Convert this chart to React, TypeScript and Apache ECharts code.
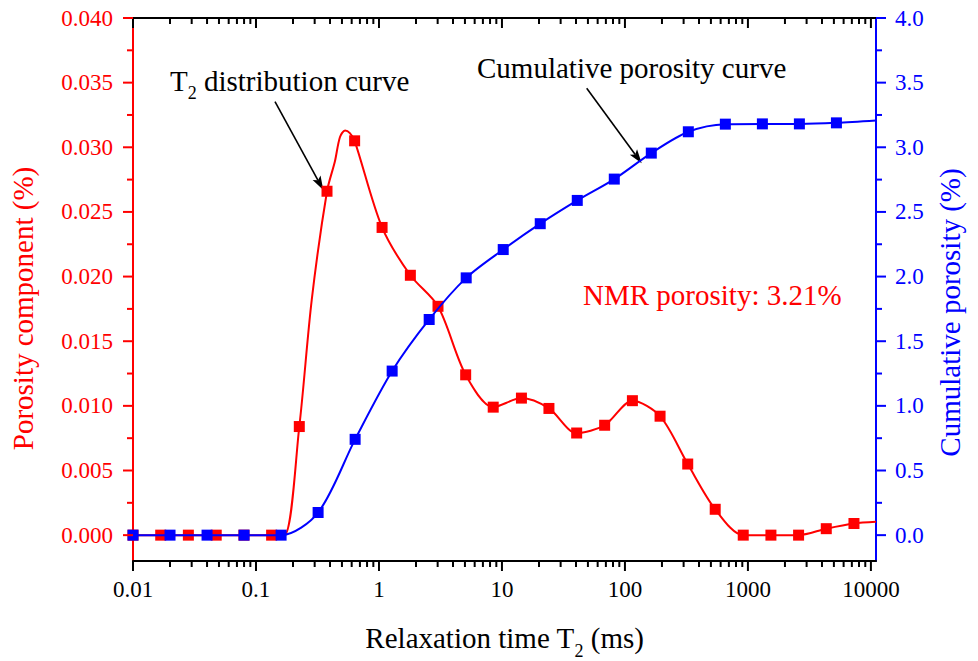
import React, { useEffect, useRef } from 'react';
import * as echarts from 'echarts';

const FONT = 'Liberation Serif';
const RED = '#ff0000';
const BLUE = '#0000ff';

// ---- axis ticks / labels ----
const xTickValues = [0.01, 0.1, 1, 10, 100, 1000, 10000];
const xTickLabels = ['0.01', '0.1', '1', '10', '100', '1000', '10000'];
const xMinorMultipliers = [2, 3, 4, 5, 6, 7, 8, 9];
const leftTickValues = [0, 0.005, 0.01, 0.015, 0.02, 0.025, 0.03, 0.035, 0.04];
const rightTickValues = [0, 0.5, 1, 1.5, 2, 2.5, 3, 3.5, 4];

// ---- T2 distribution (red, left axis) ----
const redMarkerT2 = [0.01, 0.0168, 0.0282, 0.0475, 0.0798, 0.134, 0.225, 0.378, 0.634, 1.06, 1.8, 3.02, 5.07, 8.49, 14.4, 24.1, 40.5, 68.4, 115, 193, 324, 542, 916, 1538, 2582, 4336, 7281];
const redMarkerPorosity = [0, 0, 0, 0, 0, 0, 0.0084, 0.0266, 0.0305, 0.0238, 0.0201, 0.0177, 0.0124, 0.0099, 0.0106, 0.0098, 0.0079, 0.0085, 0.0104, 0.0092, 0.0055, 0.002, 0, 0, 0, 0.0005, 0.0009];
const redCurveT2 = [0.01, 0.0168, 0.0282, 0.0475, 0.0798, 0.134, 0.17, 0.225, 0.284, 0.378, 0.438, 0.482, 0.53, 0.58, 0.634, 1.06, 1.8, 3.02, 5.07, 8.49, 14.4, 24.1, 40.5, 68.4, 115, 193, 324, 542, 916, 1538, 2582, 4336, 7281, 11000];
const redCurvePorosity = [0, 0, 0, 0, 0, 0, 0, 0.0084, 0.0182, 0.0266, 0.0289, 0.0308, 0.0313, 0.0311, 0.0305, 0.0238, 0.0201, 0.0177, 0.0124, 0.0099, 0.0106, 0.0098, 0.0079, 0.0085, 0.0104, 0.0092, 0.0055, 0.002, 0, 0, 0, 0.0005, 0.0009, 0.00103];

// ---- cumulative porosity (blue, right axis) ----
const blueMarkerT2 = [0.01, 0.02, 0.04, 0.08, 0.16, 0.32, 0.64, 1.28, 2.56, 5.12, 10.24, 20.48, 40.96, 81.92, 163.8, 327.7, 655.4, 1311, 2621, 5243];
const blueMarkerCum = [0, 0, 0, 0, 0, 0.175, 0.741, 1.269, 1.668, 1.99, 2.209, 2.409, 2.589, 2.754, 2.955, 3.12, 3.179, 3.181, 3.181, 3.189];
const blueCurveT2 = [0.01, 0.02, 0.04, 0.08, 0.16, 0.32, 0.64, 1.28, 2.56, 5.12, 10.24, 20.48, 40.96, 81.92, 163.8, 327.7, 655.4, 1311, 2621, 5243, 11000];
const blueCurveCum = [0, 0, 0, 0, 0, 0.175, 0.741, 1.269, 1.668, 1.99, 2.209, 2.409, 2.589, 2.754, 2.955, 3.12, 3.179, 3.181, 3.181, 3.189, 3.207];

const pairs = (xs: number[], ys: number[]) => xs.map((x, i) => [x, ys[i]]);

function arrow(x1: number, y1: number, x2: number, y2: number) {
  const dx = x2 - x1, dy = y2 - y1;
  const L = Math.hypot(dx, dy);
  const ux = dx / L, uy = dy / L;
  const headL = 14, headW = 4.5;
  const bx = x2 - ux * headL, by = y2 - uy * headL;
  return [
    { type: 'line', shape: { x1, y1, x2: bx + ux * 3, y2: by + uy * 3 }, style: { stroke: '#000', lineWidth: 1.6 } },
    {
      type: 'polygon',
      shape: { points: [[x2, y2], [bx - uy * headW, by + ux * headW], [bx + ux * 3, by + uy * 3], [bx + uy * headW, by - ux * headW]] },
      style: { fill: '#000' },
    },
  ];
}

export default function App() {
  const ref = useRef<HTMLDivElement>(null);
  useEffect(() => {
    const chart = echarts.init(ref.current!, null, { renderer: 'svg' });

    const xMinor: number[] = [];
    xTickValues.slice(0, -1).forEach((d) => xMinorMultipliers.forEach((m) => xMinor.push(d * m)));
    const xTickData = [...xTickValues.map((v) => [v, 0, 1]), ...xMinor.map((v) => [v, 0, 0])];
    const leftMinor = leftTickValues.slice(0, -1).map((v, i) => (v + leftTickValues[i + 1]) / 2);
    const rightMinor = rightTickValues.slice(0, -1).map((v, i) => (v + rightTickValues[i + 1]) / 2);
    const leftTickData = [...leftTickValues.map((v) => [1, v, 1]), ...leftMinor.map((v) => [1, v, 0])];
    const rightTickData = [...rightTickValues.map((v) => [1, v, 1]), ...rightMinor.map((v) => [1, v, 0])];

    const xLabelFmt = (v: number) => {
      const i = xTickValues.findIndex((t) => Math.abs(Math.log10(t) - Math.log10(v)) < 1e-6);
      return i >= 0 ? xTickLabels[i] : '';
    };

    const option: any = {
      animation: false,
      backgroundColor: '#ffffff',
      textStyle: { fontFamily: FONT },
      grid: { left: 133, right: 102, top: 18, bottom: 100, containLabel: false, outerBoundsMode: 'none' },
      xAxis: [
        {
          type: 'log', logBase: 10, min: 0.01, max: 11000, position: 'bottom',
          axisLine: { show: true, onZero: false, lineStyle: { color: '#000', width: 2 } },
          axisTick: { show: false },
          minorTick: { show: false },
          splitLine: { show: false },
          minorSplitLine: { show: false },
          axisLabel: {
            show: true, margin: 17, color: '#000', fontFamily: FONT, fontSize: 23,
            formatter: xLabelFmt, showMaxLabel: false,
          },
        },
        {
          type: 'log', logBase: 10, min: 0.01, max: 11000, position: 'top',
          axisLine: { show: true, onZero: false, lineStyle: { color: '#000', width: 2 } },
          axisTick: { show: false },
          splitLine: { show: false },
          axisLabel: { show: false },
        },
      ],
      yAxis: [
        {
          type: 'value', min: -0.002, max: 0.04, splitNumber: 8, position: 'left',
          axisLine: { show: true, onZero: false, lineStyle: { color: RED, width: 2 } },
          axisTick: { show: false },
          splitLine: { show: false },
          axisLabel: {
            show: true, margin: 20, color: RED, fontFamily: FONT, fontSize: 23,
            customValues: leftTickValues,
            formatter: (v: number) => (v < -1e-9 ? '' : v.toFixed(3)),
          },
        },
        {
          type: 'value', min: -0.2, max: 4.0, splitNumber: 8, position: 'right',
          axisLine: { show: true, onZero: false, lineStyle: { color: BLUE, width: 2 } },
          axisTick: { show: false },
          splitLine: { show: false },
          axisLabel: {
            show: true, margin: 19, color: BLUE, fontFamily: FONT, fontSize: 23,
            customValues: rightTickValues,
            formatter: (v: number) => (v < -1e-9 ? '' : v.toFixed(1)),
          },
        },
      ],
      series: [
        {
          type: 'custom', coordinateSystem: 'cartesian2d', xAxisIndex: 0, yAxisIndex: 0,
          silent: true, clip: false, z: 10, encode: { x: 0, y: 1 }, data: xTickData,
          renderItem: (params: any, api: any) => {
            const x = api.coord([api.value(0), 0])[0];
            const cs = params.coordSys;
            const len = api.value(2) ? 10 : 6;
            const b = cs.y + cs.height;
            return {
              type: 'group',
              children: [
                { type: 'line', shape: { x1: x, y1: b, x2: x, y2: b + len }, style: { stroke: '#000', lineWidth: 2 } },
                { type: 'line', shape: { x1: x, y1: cs.y, x2: x, y2: cs.y + len }, style: { stroke: '#000', lineWidth: 2 } },
              ],
            };
          },
        },
        {
          type: 'custom', coordinateSystem: 'cartesian2d', xAxisIndex: 0, yAxisIndex: 0,
          silent: true, clip: false, z: 10, encode: { x: 0, y: 1 }, data: leftTickData,
          renderItem: (params: any, api: any) => {
            const y = api.coord([1, api.value(1)])[1];
            const cs = params.coordSys;
            const len = api.value(2) ? 10 : 6;
            return { type: 'line', shape: { x1: cs.x - len, y1: y, x2: cs.x, y2: y }, style: { stroke: RED, lineWidth: 2 } };
          },
        },
        {
          type: 'custom', coordinateSystem: 'cartesian2d', xAxisIndex: 0, yAxisIndex: 1,
          silent: true, clip: false, z: 10, encode: { x: 0, y: 1 }, data: rightTickData,
          renderItem: (params: any, api: any) => {
            const y = api.coord([1, api.value(1)])[1];
            const cs = params.coordSys;
            const len = api.value(2) ? 10 : 6;
            const r = cs.x + cs.width;
            return { type: 'line', shape: { x1: r, y1: y, x2: r + len, y2: y }, style: { stroke: BLUE, lineWidth: 2 } };
          },
        },
        {
          type: 'line', xAxisIndex: 0, yAxisIndex: 0, data: pairs(redCurveT2, redCurvePorosity),
          smooth: 0.3, showSymbol: false, symbol: 'none', lineStyle: { color: RED, width: 2 }, z: 3,
        },
        {
          type: 'scatter', xAxisIndex: 0, yAxisIndex: 0, data: pairs(redMarkerT2, redMarkerPorosity),
          symbol: 'rect', symbolSize: 11, itemStyle: { color: RED, opacity: 1 }, z: 4,
        },
        {
          type: 'line', xAxisIndex: 0, yAxisIndex: 1, data: pairs(blueCurveT2, blueCurveCum),
          smooth: 0.3, showSymbol: false, symbol: 'none', lineStyle: { color: BLUE, width: 2 }, z: 5,
        },
        {
          type: 'scatter', xAxisIndex: 0, yAxisIndex: 1, data: pairs(blueMarkerT2, blueMarkerCum),
          symbol: 'rect', symbolSize: 11, itemStyle: { color: BLUE, opacity: 1 }, z: 6,
        },
      ],
      graphic: [
        {
          type: 'text', x: 170, y: 80.8, z: 20,
          style: {
            text: '{m|T}{s|2}{m| distribution curve}',
            rich: {
              m: { fontSize: 29, fontFamily: FONT, lineHeight: 29 },
              s: { fontSize: 18, fontFamily: FONT, lineHeight: 18, padding: [25, 0, 0, 0] },
            },
            fill: '#000', align: 'left', verticalAlign: 'middle', fontSize: 29, fontFamily: FONT,
          },
        },
        {
          type: 'text', x: 477, y: 68.3, z: 20,
          style: { text: 'Cumulative porosity curve', fill: '#000', align: 'left', verticalAlign: 'middle', fontSize: 29, fontFamily: FONT },
        },
        {
          type: 'text', x: 583, y: 294.7, z: 20,
          style: { text: 'NMR porosity: 3.21%', fill: RED, align: 'left', verticalAlign: 'middle', fontSize: 29, fontFamily: FONT },
        },
        {
          type: 'text', x: 504.5, y: 638, z: 20,
          style: {
            text: '{m|Relaxation time T}{s|2}{m| (ms)}',
            rich: {
              m: { fontSize: 29, fontFamily: FONT, lineHeight: 29 },
              s: { fontSize: 18, fontFamily: FONT, lineHeight: 18, padding: [25, 0, 0, 0] },
            },
            fill: '#000', align: 'center', verticalAlign: 'middle', fontSize: 29, fontFamily: FONT,
          },
        },
        {
          type: 'text', x: 23.3, y: 308.5, rotation: Math.PI / 2, z: 20,
          style: { text: 'Porosity component (%)', fill: RED, align: 'center', verticalAlign: 'middle', fontSize: 29, fontFamily: FONT },
        },
        {
          type: 'text', x: 950, y: 312.5, rotation: Math.PI / 2, z: 20,
          style: { text: 'Cumulative porosity (%)', fill: BLUE, align: 'center', verticalAlign: 'middle', fontSize: 29, fontFamily: FONT },
        },
        ...arrow(275, 101.7, 323.3, 190),
        ...arrow(586.7, 88.3, 641.7, 163.3),
      ],
    };

    chart.setOption(option);
    return () => chart.dispose();
  }, []);

  return <div ref={ref} style={{ position: 'absolute', left: 0, top: 0, width: 978, height: 661 }} />;
}
